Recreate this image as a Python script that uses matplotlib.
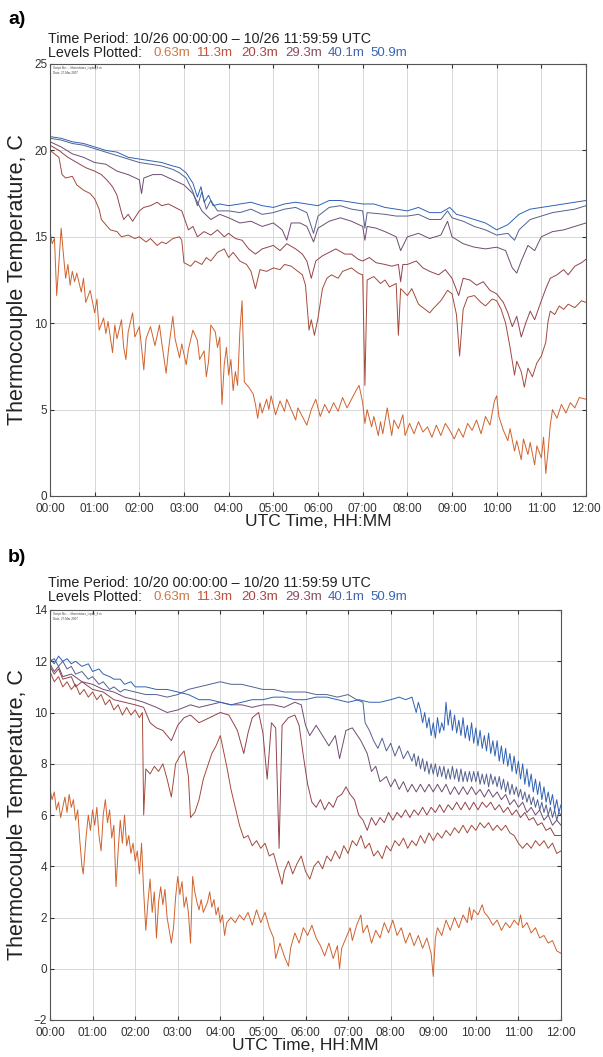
import numpy as np
import matplotlib
matplotlib.use("Agg")
import matplotlib.pyplot as plt

plt.rcParams['font.family'] = ['Liberation Sans', 'DejaVu Sans']

# level names and colours (legend line)
levels = ['0.63m', '11.3m', '20.3m', '29.3m', '40.1m', '50.9m']
level_colors = ['#d4733e', '#c4523e', '#a8443f', '#8a4d66', '#4a63ad', '#3566b8']
line_colors = ['#d0622c', '#a44a3a', '#94424c', '#6e4c70', '#53618f', '#2f62b5']

hours = list(range(13))
hour_labels = ['%02d:00' % h for h in hours]

# ---------------- panel a) 10/26 : (hour, temperature C) ----------------
a_063 = [(0.00,15.3),(0.05,14.6),(0.10,14.9),(0.15,11.6),(0.20,13.5),(0.25,15.5),(0.30,14.0),(0.35,12.6),
         (0.40,13.4),(0.45,12.2),(0.50,13.0),(0.55,12.4),(0.60,12.9),(0.70,11.8),(0.75,12.6),(0.80,11.2),
         (0.90,11.9),(1.00,10.6),(1.05,11.4),(1.10,9.6),(1.20,10.3),(1.25,9.4),(1.30,10.1),(1.40,8.3),
         (1.45,9.9),(1.50,9.1),(1.60,10.2),(1.65,8.6),(1.70,7.9),(1.75,9.5),(1.85,10.6),(1.90,9.2),
         (2.00,9.8),(2.05,8.6),(2.10,7.3),(2.15,9.1),(2.25,9.8),(2.35,8.7),(2.45,9.9),(2.50,8.9),
         (2.60,7.1),(2.65,8.4),(2.75,10.4),(2.80,9.1),(2.90,8.0),(2.95,8.8),(3.05,7.6),(3.10,8.5),
         (3.20,9.6),(3.30,9.0),(3.35,7.9),(3.45,8.4),(3.50,6.9),(3.55,7.8),(3.60,9.9),(3.70,9.5),
         (3.75,8.6),(3.80,9.2),(3.85,5.3),(3.90,7.6),(3.95,8.6),(4.00,7.0),(4.05,7.9),(4.10,6.1),
         (4.15,7.2),(4.20,6.4),(4.25,9.5),(4.30,11.3),(4.35,6.6),(4.45,6.3),(4.55,5.9),(4.60,5.3),
         (4.65,4.5),(4.70,5.4),(4.75,4.8),(4.85,5.6),(4.90,5.0),(4.95,5.8),(5.05,4.7),(5.15,5.5),
         (5.25,4.9),(5.30,5.6),(5.40,5.0),(5.50,4.4),(5.55,5.1),(5.65,4.6),(5.75,4.1),(5.85,5.0),
         (5.95,5.6),(6.05,4.6),(6.15,5.3),(6.25,4.8),(6.35,5.4),(6.45,4.9),(6.55,5.7),(6.65,5.1),
         (6.75,5.6),(6.85,6.1),(6.92,6.4),(7.00,5.4),(7.05,4.2),(7.10,5.0),(7.20,4.0),(7.25,4.6),
         (7.35,3.5),(7.40,4.3),(7.45,3.6),(7.55,5.1),(7.65,3.5),(7.70,4.4),(7.80,3.9),(7.90,4.7),
         (7.95,3.5),(8.05,4.2),(8.15,3.6),(8.25,4.3),(8.35,3.7),(8.45,4.0),(8.55,3.4),(8.65,4.1),
         (8.75,3.5),(8.85,4.2),(8.95,3.8),(9.05,3.3),(9.15,3.9),(9.25,3.4),(9.35,4.2),(9.45,3.8),
         (9.55,4.4),(9.65,3.6),(9.75,4.6),(9.85,4.1),(9.95,5.5),(10.00,5.8),(10.05,4.6),(10.15,3.8),
         (10.25,3.2),(10.30,3.9),(10.40,2.6),(10.45,3.2),(10.55,2.1),(10.60,3.3),(10.70,2.4),(10.75,3.1),
         (10.85,1.8),(10.90,2.9),(11.00,2.2),(11.05,3.4),(11.10,1.3),(11.15,2.6),(11.20,4.1),(11.25,5.0),
         (11.35,4.5),(11.45,5.3),(11.55,4.8),(11.65,5.4),(11.75,5.1),(11.85,5.7),(12.00,5.6)]
a_113 = [(0,20.0),(0.1,19.8),(0.2,19.6),(0.27,18.6),(0.35,18.4),(0.5,18.5),(0.6,18.0),(0.75,17.7),(0.9,17.5),
         (1.0,17.2),(1.1,16.6),(1.15,16.0),(1.25,15.7),(1.35,15.4),(1.5,15.3),(1.6,15.0),(1.75,15.1),(1.9,14.9),
         (2.0,15.0),(2.15,14.7),(2.25,14.9),(2.4,14.5),(2.5,14.7),(2.6,14.6),(2.75,14.9),(2.9,15.0),(2.95,14.8),
         (3.0,13.5),(3.15,13.3),(3.25,13.6),(3.4,13.4),(3.5,13.8),(3.6,13.6),(3.75,14.1),(3.9,14.3),(4.0,13.8),
         (4.1,14.1),(4.25,13.6),(4.4,13.4),(4.5,13.0),(4.6,12.0),(4.7,13.1),(4.85,13.0),(5.0,13.2),(5.15,13.1),
         (5.25,13.4),(5.4,13.3),(5.5,13.1),(5.65,12.8),(5.72,12.2),(5.8,9.6),(5.85,10.2),(5.92,9.3),(6.0,10.3),
         (6.1,12.0),(6.2,12.6),(6.3,12.8),(6.45,12.6),(6.55,13.0),(6.75,13.2),(6.9,12.9),(7.0,12.8),(7.05,6.4),
         (7.1,12.5),(7.25,12.7),(7.4,12.3),(7.5,12.5),(7.6,12.1),(7.75,12.3),(7.8,9.3),(7.85,12.0),(8.0,11.6),
         (8.1,12.0),(8.25,11.1),(8.4,10.8),(8.5,10.6),(8.6,10.9),(8.75,11.3),(8.9,11.9),(9.0,11.7),(9.1,10.5),
         (9.17,8.1),(9.25,10.8),(9.35,11.5),(9.5,11.6),(9.65,11.2),(9.75,11.0),(9.9,11.4),(10.0,11.3),(10.1,10.8),
         (10.2,10.0),(10.3,8.6),(10.4,7.0),(10.45,7.8),(10.55,7.2),(10.62,6.3),(10.7,7.4),(10.8,6.9),(10.9,7.7),
         (11.0,8.1),(11.1,8.9),(11.15,10.1),(11.2,10.7),(11.3,10.5),(11.4,11.0),(11.5,10.8),(11.6,11.1),
         (11.75,10.9),(11.9,11.3),(12.0,11.2)]
a_203 = [(0,20.3),(0.2,20.0),(0.4,19.6),(0.6,19.3),(0.8,19.0),(1.0,18.8),(1.15,18.6),(1.27,18.3),(1.4,17.9),
         (1.5,17.4),(1.6,16.4),(1.65,16.0),(1.75,16.3),(1.85,15.9),(2.0,16.5),(2.1,16.7),(2.25,16.8),(2.4,17.0),
         (2.5,16.8),(2.65,16.9),(2.8,16.7),(2.95,16.5),(3.1,15.4),(3.2,15.6),(3.3,15.0),(3.45,15.3),(3.6,15.1),
         (3.75,15.4),(3.9,15.0),(4.0,15.2),(4.15,14.9),(4.3,14.8),(4.45,14.3),(4.6,14.0),(4.75,14.3),(5.0,14.5),
         (5.15,14.2),(5.3,14.6),(5.5,14.3),(5.65,14.0),(5.75,13.6),(5.85,12.6),(5.95,13.6),(6.1,13.9),(6.25,14.1),
         (6.4,14.3),(6.6,14.0),(6.75,14.0),(6.9,13.7),(7.0,13.6),(7.15,13.8),(7.3,13.5),(7.5,13.4),(7.65,13.3),
         (7.8,13.4),(7.85,12.4),(7.9,13.4),(8.0,13.4),(8.2,13.6),(8.35,13.2),(8.5,13.0),(8.7,12.8),(8.85,13.1),
         (9.0,12.6),(9.15,11.6),(9.25,12.6),(9.4,12.5),(9.55,12.2),(9.7,12.4),(9.85,11.9),(10.0,11.7),(10.15,11.2),
         (10.25,10.6),(10.35,9.8),(10.45,10.4),(10.55,9.2),(10.65,10.0),(10.75,10.7),(10.85,10.2),(11.0,11.3),
         (11.1,12.0),(11.2,12.6),(11.35,12.8),(11.5,13.1),(11.6,12.8),(11.75,13.3),(11.9,13.5),(12.0,13.7)]
a_293 = [(0,20.5),(0.25,20.2),(0.5,19.8),(0.75,19.6),(1.0,19.3),(1.25,19.2),(1.5,18.8),(1.75,18.6),(2.0,18.3),
         (2.05,17.5),(2.1,18.4),(2.3,18.6),(2.5,18.6),(2.75,18.3),(3.0,18.0),(3.2,17.5),(3.4,16.5),(3.6,16.0),
         (3.8,16.3),(4.0,16.1),(4.25,15.8),(4.5,15.9),(4.75,15.6),(5.0,15.8),(5.2,15.4),(5.3,14.8),(5.4,15.8),
         (5.6,15.8),(5.75,15.6),(5.9,14.7),(6.0,15.5),(6.25,15.9),(6.5,16.1),(6.75,15.9),(7.0,15.6),(7.05,14.8),
         (7.1,15.6),(7.3,15.5),(7.5,15.3),(7.75,15.0),(7.85,14.2),(8.0,15.0),(8.25,15.2),(8.5,14.9),(8.75,15.1),
         (8.9,15.9),(9.0,15.0),(9.25,14.6),(9.5,14.4),(9.75,14.3),(10.0,14.4),(10.2,14.2),(10.35,13.2),
         (10.45,12.9),(10.55,13.6),(10.7,14.5),(10.85,14.2),(11.0,15.0),(11.25,15.3),(11.5,15.4),(11.75,15.6),
         (12.0,15.8)]
a_401 = [(0,20.7),(0.25,20.6),(0.5,20.4),(0.75,20.3),(1.0,20.1),(1.25,19.9),(1.5,19.7),(1.75,19.5),(2.0,19.3),
         (2.25,19.2),(2.5,19.1),(2.75,18.9),(2.9,18.7),(3.05,18.4),(3.2,17.6),(3.3,16.8),(3.4,17.6),(3.5,16.6),
         (3.6,17.1),(3.75,16.5),(4.0,16.5),(4.25,16.4),(4.5,16.6),(4.75,16.3),(5.0,16.4),(5.25,16.6),(5.5,16.7),
         (5.75,16.4),(5.9,15.2),(6.0,16.2),(6.25,16.7),(6.5,16.8),(6.75,16.6),(7.0,16.5),(7.05,15.5),(7.1,16.4),
         (7.5,16.3),(7.75,16.2),(8.0,16.2),(8.25,16.3),(8.5,16.0),(8.75,16.0),(8.9,16.5),(9.0,16.1),(9.25,15.9),
         (9.5,15.6),(9.75,15.4),(10.0,15.1),(10.25,15.2),(10.4,14.8),(10.5,15.4),(10.75,16.0),(11.0,16.2),
         (11.25,16.4),(11.5,16.5),(11.75,16.6),(12.0,16.8)]
a_509 = [(0,20.8),(0.25,20.7),(0.5,20.5),(0.75,20.4),(1.0,20.2),(1.25,20.0),(1.5,19.9),(1.75,19.6),(2.0,19.5),
         (2.25,19.4),(2.5,19.3),(2.75,19.1),(2.9,19.0),(3.05,18.7),(3.2,18.1),(3.3,17.3),(3.38,17.9),(3.45,17.0),
         (3.55,17.4),(3.65,16.8),(3.8,16.9),(4.0,16.8),(4.25,16.9),(4.5,17.0),(4.75,16.8),(5.0,16.7),(5.25,16.9),
         (5.5,17.0),(5.75,16.9),(6.0,16.8),(6.25,17.1),(6.5,17.1),(6.75,17.0),(7.0,16.9),(7.25,16.9),(7.5,16.7),
         (7.75,16.6),(8.0,16.5),(8.25,16.7),(8.5,16.4),(8.75,16.4),(8.95,16.7),(9.1,16.3),(9.25,16.2),(9.5,16.0),
         (9.75,15.8),(10.0,15.4),(10.25,15.7),(10.5,16.3),(10.75,16.6),(11.0,16.7),(11.25,16.8),(11.5,16.9),
         (11.75,17.0),(12.0,17.1)]

# ---------------- panel b) 10/20 : (hour, temperature C) ----------------
b_063 = [(0.00,7.0),(0.05,6.6),(0.10,6.9),(0.15,6.2),(0.20,6.5),(0.25,5.9),(0.30,6.3),(0.35,6.7),(0.40,6.1),
         (0.45,6.8),(0.50,6.3),(0.55,6.6),(0.60,5.8),(0.65,6.2),(0.70,5.0),(0.75,4.0),(0.78,3.7),(0.85,5.2),
         (0.90,6.0),(0.95,5.4),(1.00,6.2),(1.05,5.6),(1.10,6.3),(1.15,5.2),(1.20,4.6),(1.25,6.0),(1.30,6.6),
         (1.35,5.7),(1.40,6.2),(1.45,5.1),(1.50,5.6),(1.55,3.2),(1.60,4.6),(1.65,5.8),(1.70,4.9),(1.75,6.0),
         (1.80,4.8),(1.85,5.2),(1.90,4.5),(1.95,4.9),(2.00,4.2),(2.05,4.6),(2.10,3.7),(2.15,4.9),(2.20,3.0),
         (2.25,1.5),(2.30,2.6),(2.35,3.5),(2.40,2.2),(2.45,3.0),(2.50,1.2),(2.55,2.6),(2.60,3.2),(2.65,2.5),
         (2.70,3.1),(2.75,2.0),(2.80,1.5),(2.85,1.0),(2.90,1.6),(2.95,2.8),(3.00,3.6),(3.05,2.9),(3.10,3.4),
         (3.15,2.4),(3.20,2.8),(3.25,2.2),(3.30,1.0),(3.35,3.6),(3.40,3.0),(3.45,2.6),(3.50,2.3),(3.55,2.7),
         (3.60,2.2),(3.70,2.6),(3.75,3.0),(3.80,2.4),(3.85,2.7),(3.90,2.1),(3.95,2.4),(4.00,1.8),(4.05,2.1),
         (4.10,1.3),(4.15,1.8),(4.25,2.0),(4.35,1.8),(4.45,2.1),(4.55,1.9),(4.65,2.2),(4.75,1.7),(4.85,2.3),
         (4.95,1.8),(5.05,2.2),(5.15,1.6),(5.25,1.2),(5.30,0.4),(5.40,1.0),(5.50,0.5),(5.60,0.1),(5.65,0.8),
         (5.75,1.4),(5.85,1.0),(5.95,1.6),(6.05,1.3),(6.15,1.7),(6.25,1.2),(6.35,0.9),(6.45,0.5),(6.55,1.0),
         (6.65,0.4),(6.75,0.9),(6.80,0.0),(6.85,0.8),(6.95,1.2),(7.05,1.6),(7.10,1.1),(7.20,1.7),(7.30,2.1),
         (7.35,1.4),(7.45,1.7),(7.55,1.0),(7.65,1.5),(7.75,1.2),(7.85,1.8),(7.95,1.4),(8.05,1.9),(8.15,1.3),
         (8.25,1.6),(8.35,1.0),(8.45,1.4),(8.55,0.9),(8.65,1.3),(8.75,0.8),(8.85,1.2),(8.95,0.6),(9.00,-0.3),
         (9.05,1.2),(9.10,1.6),(9.20,1.3),(9.30,1.9),(9.40,1.5),(9.50,2.0),(9.60,1.6),(9.70,2.1),(9.80,1.8),
         (9.85,2.4),(9.90,1.9),(9.95,2.3),(10.05,2.1),(10.15,2.5),(10.20,2.2),(10.30,2.0),(10.40,1.7),
         (10.50,1.9),(10.60,1.5),(10.70,1.8),(10.80,1.6),(10.90,1.9),(11.00,1.7),(11.05,2.1),(11.10,1.6),
         (11.20,1.8),(11.30,1.4),(11.40,1.6),(11.50,1.2),(11.60,1.3),(11.70,1.0),(11.80,1.1),(11.90,0.7),
         (12.00,0.6)]
b_113 = [(0,11.6),(0.1,11.2),(0.2,11.4),(0.3,11.0),(0.4,11.2),(0.5,10.9),(0.6,11.1),(0.7,10.7),(0.8,10.9),
         (0.9,10.6),(1.0,10.8),(1.1,10.5),(1.2,10.7),(1.3,10.3),(1.4,10.5),(1.5,10.1),(1.6,10.3),(1.7,9.9),
         (1.8,10.2),(1.9,9.9),(2.0,10.1),(2.1,9.8),(2.17,10.0),(2.2,6.0),(2.25,7.8),(2.35,7.6),(2.45,7.9),
         (2.55,7.7),(2.65,8.0),(2.75,7.4),(2.85,6.7),(2.95,8.0),(3.05,8.3),(3.15,8.5),(3.25,7.5),(3.3,5.9),
         (3.4,6.1),(3.5,6.6),(3.6,7.4),(3.7,7.9),(3.8,8.4),(3.9,8.7),(4.0,9.1),(4.05,8.7),(4.15,7.9),(4.25,7.0),
         (4.35,6.3),(4.45,5.6),(4.55,5.1),(4.65,5.2),(4.75,4.8),(4.85,5.0),(4.95,4.7),(5.05,4.9),(5.15,4.4),
         (5.25,4.5),(5.35,3.9),(5.45,3.3),(5.5,3.8),(5.6,4.2),(5.7,3.7),(5.8,4.1),(5.9,4.4),(6.0,3.8),(6.1,3.5),
         (6.2,4.0),(6.3,4.2),(6.4,3.9),(6.5,4.4),(6.6,4.2),(6.7,4.6),(6.8,4.3),(6.9,4.8),(7.0,4.5),(7.1,5.0),
         (7.2,4.8),(7.3,5.2),(7.4,4.7),(7.5,4.9),(7.6,4.4),(7.7,4.6),(7.8,4.3),(7.9,4.8),(8.0,4.6),(8.1,5.0),
         (8.2,4.8),(8.3,5.1),(8.4,4.7),(8.5,5.0),(8.6,4.8),(8.7,5.2),(8.8,4.9),(8.9,5.3),(9.0,5.0),(9.1,5.3),
         (9.2,5.1),(9.3,5.4),(9.4,5.2),(9.5,5.5),(9.6,5.3),(9.7,5.6),(9.8,5.3),(9.9,5.6),(10.0,5.4),(10.1,5.7),
         (10.2,5.5),(10.3,5.7),(10.4,5.4),(10.5,5.6),(10.6,5.4),(10.7,5.6),(10.8,5.3),(10.9,5.2),(11.0,4.9),
         (11.1,4.7),(11.2,4.9),(11.3,4.7),(11.4,5.0),(11.5,4.8),(11.6,5.0),(11.7,4.7),(11.8,4.9),(11.9,4.5),
         (12.0,4.6)]
b_203 = [(0,11.8),(0.1,11.5),(0.2,11.7),(0.3,11.3),(0.5,11.4),(0.6,11.0),(0.75,11.2),(1.0,10.9),(1.25,10.8),
         (1.5,10.5),(1.75,10.4),(2.0,10.3),(2.2,10.2),(2.35,9.6),(2.5,9.4),(2.65,9.3),(2.85,8.9),(3.0,9.5),
         (3.15,9.8),(3.3,9.9),(3.5,9.6),(3.75,9.8),(4.0,10.0),(4.2,9.9),(4.4,9.3),(4.55,8.4),(4.65,9.2),
         (4.75,9.8),(4.9,10.0),(5.0,9.2),(5.1,7.4),(5.2,9.6),(5.3,9.4),(5.38,4.7),(5.45,9.5),(5.6,9.8),
         (5.75,9.9),(5.85,9.5),(5.95,8.3),(6.05,7.2),(6.15,6.5),(6.25,6.3),(6.35,6.6),(6.45,6.2),(6.55,6.5),
         (6.65,6.3),(6.75,6.7),(6.85,6.8),(6.95,7.1),(7.05,6.8),(7.15,6.6),(7.25,6.0),(7.35,5.8),(7.45,5.4),
         (7.55,5.9),(7.65,5.6),(7.75,5.9),(7.85,5.7),(7.95,6.1),(8.05,5.8),(8.15,6.1),(8.25,5.9),(8.35,6.2),
         (8.45,5.9),(8.55,6.2),(8.65,6.0),(8.75,6.3),(8.85,6.0),(8.95,6.3),(9.05,6.1),(9.15,6.4),(9.25,6.1),
         (9.35,6.4),(9.45,6.2),(9.55,6.5),(9.65,6.2),(9.75,6.5),(9.85,6.2),(9.95,6.5),(10.05,6.2),(10.15,6.5),
         (10.25,6.3),(10.35,6.5),(10.45,6.2),(10.55,6.4),(10.65,6.1),(10.75,6.3),(10.85,6.0),(10.95,6.2),
         (11.05,5.9),(11.15,6.1),(11.25,5.8),(11.35,5.9),(11.45,5.6),(11.55,5.7),(11.65,5.4),(11.75,5.5),
         (11.85,5.2),(12.0,5.2)]
b_293 = [(0,11.9),(0.1,11.6),(0.2,11.8),(0.3,11.4),(0.5,11.5),(0.75,11.2),(1.0,11.1),(1.25,10.9),(1.5,10.8),
         (1.75,10.6),(2.0,10.5),(2.2,10.4),(2.5,10.2),(2.75,10.0),(3.0,10.1),(3.3,10.3),(3.5,10.2),(3.75,10.3),
         (4.0,10.4),(4.25,10.3),(4.5,10.3),(4.75,10.2),(5.0,10.3),(5.25,10.3),(5.5,10.2),(5.75,10.4),(5.9,10.3),
         (6.0,9.5),(6.1,9.1),(6.25,9.5),(6.4,9.1),(6.55,8.7),(6.7,9.1),(6.8,8.2),(6.95,9.3),(7.1,9.4),(7.3,8.9),
         (7.45,8.4),(7.55,7.7),(7.65,7.9),(7.75,7.3),(7.9,7.5),(8.0,7.1),(8.1,7.4),(8.2,7.0),(8.3,7.3),(8.4,6.9),
         (8.5,7.2),(8.6,6.9),(8.7,7.2),(8.8,6.9),(8.9,7.2),(9.0,6.9),(9.1,7.2),(9.2,6.9),(9.3,7.2),(9.4,6.8),
         (9.5,7.1),(9.6,6.8),(9.7,7.1),(9.8,6.8),(9.9,7.1),(10.0,6.8),(10.1,7.0),(10.2,6.7),(10.3,7.0),(10.4,6.7),
         (10.5,6.9),(10.6,6.6),(10.7,6.8),(10.8,6.4),(10.9,6.6),(11.0,6.3),(11.1,6.5),(11.2,6.1),(11.3,6.3),
         (11.4,6.0),(11.5,6.2),(11.6,5.8),(11.7,6.0),(11.8,5.6),(11.9,5.8),(12.0,5.6)]
b_401 = [(0,12.0),(0.1,12.1),(0.2,11.8),(0.3,12.0),(0.4,11.7),(0.5,11.8),(0.6,11.5),(0.75,11.6),(0.9,11.3),
         (1.0,11.4),(1.15,11.1),(1.25,11.2),(1.4,10.9),(1.5,11.0),(1.65,10.8),(1.75,10.9),(2.0,10.8),(2.25,10.7),
         (2.5,10.7),(2.75,10.6),(3.0,10.7),(3.25,10.9),(3.5,11.0),(3.75,11.1),(4.0,11.2),(4.25,11.1),(4.5,11.1),
         (4.75,11.0),(5.0,10.9),(5.25,10.9),(5.5,10.8),(5.75,10.8),(6.0,10.8),(6.25,10.7),(6.5,10.7),(6.75,10.6),
         (7.0,10.7),(7.2,10.5),(7.35,10.4),(7.4,9.6),(7.5,9.3),(7.6,8.9),(7.7,8.6),(7.8,9.0),(7.9,8.5),(8.0,8.8),
         (8.1,8.3),(8.2,8.7),(8.3,8.2),(8.4,8.5),(8.50,8.1),(8.55,8.4),(8.60,7.9),(8.65,8.3),(8.70,7.8),(8.75,8.2),
         (8.80,7.7),(8.85,8.1),(8.90,7.6),(8.95,8.0),(9.00,7.6),(9.05,8.0),(9.10,7.5),(9.15,7.9),(9.20,7.5),
         (9.25,7.9),(9.30,7.4),(9.35,7.8),(9.40,7.4),(9.45,7.9),(9.50,7.4),(9.55,7.8),(9.60,7.3),(9.65,7.8),
         (9.70,7.3),(9.75,7.7),(9.80,7.3),(9.85,7.7),(9.90,7.3),(9.95,7.7),(10.00,7.3),(10.05,7.7),(10.10,7.2),
         (10.15,7.6),(10.20,7.2),(10.25,7.6),(10.30,7.1),(10.35,7.6),(10.40,7.2),(10.45,7.5),(10.50,7.1),
         (10.55,7.5),(10.60,7.0),(10.65,7.4),(10.70,6.9),(10.75,7.3),(10.80,6.8),(10.85,7.2),(10.90,6.8),
         (10.95,7.1),(11.00,6.7),(11.05,7.0),(11.10,6.6),(11.15,6.9),(11.20,6.5),(11.25,6.8),(11.30,6.4),
         (11.35,6.7),(11.40,6.3),(11.45,6.6),(11.50,6.2),(11.55,6.5),(11.60,6.1),(11.65,6.4),(11.70,6.0),
         (11.75,6.3),(11.80,5.9),(11.85,6.2),(11.90,5.8),(11.95,6.1),(12.00,6.0)]
b_509 = [(0,12.1),(0.1,11.9),(0.2,12.2),(0.3,12.0),(0.4,12.1),(0.5,11.9),(0.6,12.0),(0.75,11.8),(0.9,11.9),
         (1.0,11.6),(1.15,11.7),(1.25,11.5),(1.4,11.4),(1.5,11.3),(1.65,11.3),(1.75,11.1),(1.9,11.2),(2.0,11.0),
         (2.25,11.0),(2.5,10.9),(2.75,10.9),(3.0,10.8),(3.25,10.7),(3.5,10.5),(3.75,10.5),(4.0,10.4),(4.25,10.3),
         (4.5,10.4),(4.75,10.5),(5.0,10.5),(5.25,10.6),(5.5,10.6),(5.75,10.5),(6.0,10.5),(6.25,10.6),(6.5,10.6),
         (6.75,10.5),(7.0,10.4),(7.25,10.5),(7.5,10.4),(7.75,10.4),(8.0,10.5),(8.2,10.6),(8.35,10.5),
         (8.50,10.6),(8.55,10.3),(8.60,10.0),(8.65,10.4),(8.70,10.1),(8.75,9.6),(8.80,10.0),(8.85,9.4),(8.90,9.8),
         (8.95,9.1),(9.00,9.6),(9.05,9.0),(9.10,9.8),(9.15,9.2),(9.20,9.6),(9.25,9.3),(9.30,10.4),(9.35,9.5),
         (9.40,10.1),(9.45,9.3),(9.50,9.9),(9.55,9.2),(9.60,9.7),(9.65,9.1),(9.70,9.8),(9.75,9.0),(9.80,9.5),
         (9.85,8.9),(9.90,9.6),(9.95,8.8),(10.00,9.4),(10.05,8.7),(10.10,9.3),(10.15,8.6),(10.20,9.1),(10.25,8.5),
         (10.30,9.2),(10.35,8.4),(10.40,8.9),(10.45,8.3),(10.50,8.9),(10.55,8.1),(10.60,8.7),(10.65,8.0),
         (10.70,8.6),(10.75,7.9),(10.80,8.4),(10.85,7.7),(10.90,8.3),(10.95,7.6),(11.00,8.1),(11.05,7.4),
         (11.10,8.0),(11.15,7.2),(11.20,7.8),(11.25,7.1),(11.30,7.6),(11.35,6.9),(11.40,7.4),(11.45,6.8),
         (11.50,7.3),(11.55,6.6),(11.60,7.1),(11.65,6.5),(11.70,6.9),(11.75,6.4),(11.80,6.8),(11.85,6.2),
         (11.90,6.6),(11.95,6.1),(12.00,6.4)]

panel_a = [a_063, a_113, a_203, a_293, a_401, a_509]
panel_b = [b_063, b_113, b_203, b_293, b_401, b_509]

W, H = 603, 1057
fig = plt.figure(figsize=(W / 100, H / 100), dpi=100)


def draw_panel(rect, series, ylim, yticks, letter, letter_y, title, title_y, lab_x, xlab_y):
    ax = fig.add_axes(rect)
    for s, c in zip(series, line_colors):
        t, v = zip(*s)
        ax.plot(t, v, color=c, lw=0.7)
    ax.set_xlim(0, 12)
    ax.set_ylim(*ylim)
    ax.set_xticks(hours)
    ax.set_xticklabels(hour_labels)
    ax.set_yticks(yticks)
    ax.grid(True, color='#d6d6d6', lw=0.7)
    ax.set_axisbelow(True)
    ax.tick_params(direction='in', length=3, top=True, right=True, labelsize=8.5,
                   colors='#333333', pad=2)
    ax.tick_params(axis='x', pad=5)
    for sp in ax.spines.values():
        sp.set_color('#555555')
        sp.set_linewidth(0.8)
    ax.set_xlabel('UTC Time, HH:MM', fontsize=12.5, color='#222222', va='center')
    ax.xaxis.set_label_coords(0.5, xlab_y)
    ax.set_ylabel('Thermocouple Temperature, C', fontsize=15.5, color='#222222', va='center')
    ax.yaxis.set_label_coords(lab_x, 0.5)
    # tiny script / date stamp in the corner
    ax.text(0.005, 0.995, 'Script file: .../thermistors_tcplot_8.m\nDate: 27-Mar-2007',
            transform=ax.transAxes, fontsize=2.2, va='top', ha='left', color='#444444')

    fig.text(8 / W, 1 - letter_y / H, letter, fontsize=14, fontweight='bold', va='center')
    fig.text(48 / W, 1 - title_y / H, title, fontsize=10.3, va='center', color='#222222')
    fig.text(48 / W, 1 - (title_y + 14) / H, 'Levels Plotted:', fontsize=10.3, va='center',
             color='#222222')
    for lab, c, xp in zip(levels, level_colors, [154, 197, 241, 285, 328, 370]):
        fig.text(xp / W, 1 - (title_y + 14) / H, lab, fontsize=9.5, va='center', color=c)
    return ax


draw_panel([50 / W, 1 - 496 / H, 536 / W, 432 / H], panel_a, (0, 25), [0, 5, 10, 15, 20, 25],
           'a)', 20, 'Time Period: 10/26 00:00:00 \u2013 10/26 11:59:59 UTC', 39,
           -32 / 536, -26 / 432)
draw_panel([50 / W, 1 - 1020 / H, 511 / W, 410 / H], panel_b, (-2, 14), list(range(-2, 15, 2)),
           'b)', 557, 'Time Period: 10/20 00:00:00 \u2013 10/20 11:59:59 UTC', 583,
           -32 / 511, -26 / 410)

fig.savefig('out.png', dpi=100)
